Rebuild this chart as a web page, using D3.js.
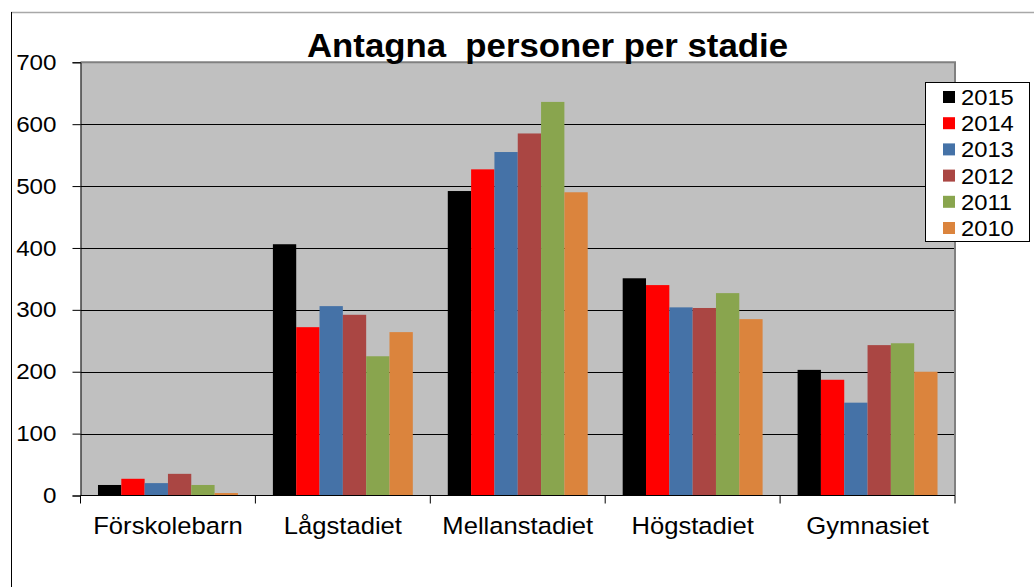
<!DOCTYPE html>
<html><head><meta charset="utf-8">
<script src="https://cdn.jsdelivr.net/npm/d3@7"></script>
<style>body{margin:0;background:#fff}svg{display:block}text{font-family:"Liberation Sans",Arial,sans-serif}</style>
</head><body>
<svg id="c" width="1034" height="587"></svg>
<script>
const categories = ["Förskolebarn","Lågstadiet","Mellanstadiet","Högstadiet","Gymnasiet"];
const years = ["2015","2014","2013","2012","2011","2010"];
const colors = ["#000000","#FF0000","#4572A7","#AA4643","#89A54E","#DB843D"];
const v2015 = [17, 406, 492, 351, 203];
const v2014 = [27, 272, 527, 340, 187];
const v2013 = [20, 306, 555, 304, 150];
const v2012 = [35, 292, 585, 303, 243];
const v2011 = [17, 225, 636, 327, 246];
const v2010 = [4, 264, 490, 285, 200];
const yTicks = [0,100,200,300,400,500,600,700];
const title = "Antagna  personer per stadie";

const series = [v2015,v2014,v2013,v2012,v2011,v2010];
const svg = d3.select("#c");
const L = 80.5, R = 955, T = 62.3, B = 495.5;

// outer frame
svg.append("line").attr("x1",11).attr("x2",1034).attr("y1",12.5).attr("y2",12.5).attr("stroke","#a8a8a8").attr("stroke-width",1.5);
svg.append("line").attr("x1",11.5).attr("x2",11.5).attr("y1",12).attr("y2",587).attr("stroke","#000").attr("stroke-width",1);

const x0 = d3.scaleBand().domain(categories).range([L,R]).paddingInner(0.2).paddingOuter(0.1);
const x1 = d3.scaleBand().domain(years).range([0,x0.bandwidth()]);
const y = d3.scaleLinear().domain([0,700]).range([B,T]);

svg.append("rect").attr("x",L).attr("y",T).attr("width",R-L).attr("height",B-T).attr("fill","#C0C0C0");

// gridlines
svg.append("g").selectAll("line").data(yTicks.filter(d=>d>0 && d<700)).join("line")
  .attr("x1",L).attr("x2",R).attr("y1",d=>Math.round(y(d))+0.5).attr("y2",d=>Math.round(y(d))+0.5)
  .attr("stroke","#000").attr("stroke-width",1);

// bars
const g = svg.append("g");
categories.forEach((c,i)=>{
  years.forEach((yr,j)=>{
    const v = series[j][i];
    g.append("rect").attr("x",x0(c)+x1(yr)).attr("y",y(v)).attr("width",x1.bandwidth()).attr("height",B-y(v)).attr("fill",colors[j]);
  });
});

// plot borders
svg.append("line").attr("x1",L).attr("x2",R+1).attr("y1",T).attr("y2",T).attr("stroke","#808080").attr("stroke-width",2);
svg.append("line").attr("x1",R).attr("x2",R).attr("y1",T).attr("y2",B).attr("stroke","#808080").attr("stroke-width",2);

// y axis
const ya = svg.append("g").attr("transform",`translate(${L},0)`).call(d3.axisLeft(y).tickValues(yTicks).tickSize(8).tickPadding(16).tickFormat(d3.format("d")));
ya.select(".domain").attr("stroke","#000");
ya.selectAll("line").attr("stroke","#000");
ya.selectAll("text").attr("font-size","22px").attr("fill","#000").style("font-family",'"Liberation Sans",Arial,sans-serif')
  .attr("x",-24/1.1).attr("transform","scale(1.1,1)");

// x axis
const xa = svg.append("g").attr("transform",`translate(0,${B})`);
xa.append("line").attr("x1",L).attr("x2",R).attr("y1",0).attr("y2",0).attr("stroke","#000");
const bounds = categories.map(c=>x0(c)-x0.step()*0.1).concat([R]);
xa.selectAll("line.t").data(bounds).join("line").attr("class","t").attr("x1",d=>d).attr("x2",d=>d).attr("y1",0).attr("y2",8).attr("stroke","#000");
xa.selectAll("text").data(categories).join("text")
  .attr("transform",c=>`translate(${x0(c)+x0.bandwidth()/2},38) scale(1.09,1)`).attr("text-anchor","middle")
  .attr("font-size","23.5px").attr("fill","#000").text(d=>d);

// title
svg.append("text").attr("x",307).attr("y",57).attr("font-size","33px").attr("font-weight","bold")
  .attr("textLength",481).attr("lengthAdjust","spacingAndGlyphs").style("white-space","pre").text(title);

// legend
const lg = svg.append("g");
lg.append("rect").attr("x",925.5).attr("y",82.5).attr("width",104).attr("height",159).attr("fill","#fff").attr("stroke","#000").attr("stroke-width",1);
years.forEach((yr,j)=>{
  const cy = 97 + j*26.2;
  lg.append("rect").attr("x",943).attr("y",cy-6).attr("width",12).attr("height",12).attr("fill",colors[j]);
  lg.append("text").attr("transform",`translate(961,${cy+8}) scale(1.08,1)`).attr("font-size","22px").attr("fill","#000").text(yr);
});
</script>
</body></html>
